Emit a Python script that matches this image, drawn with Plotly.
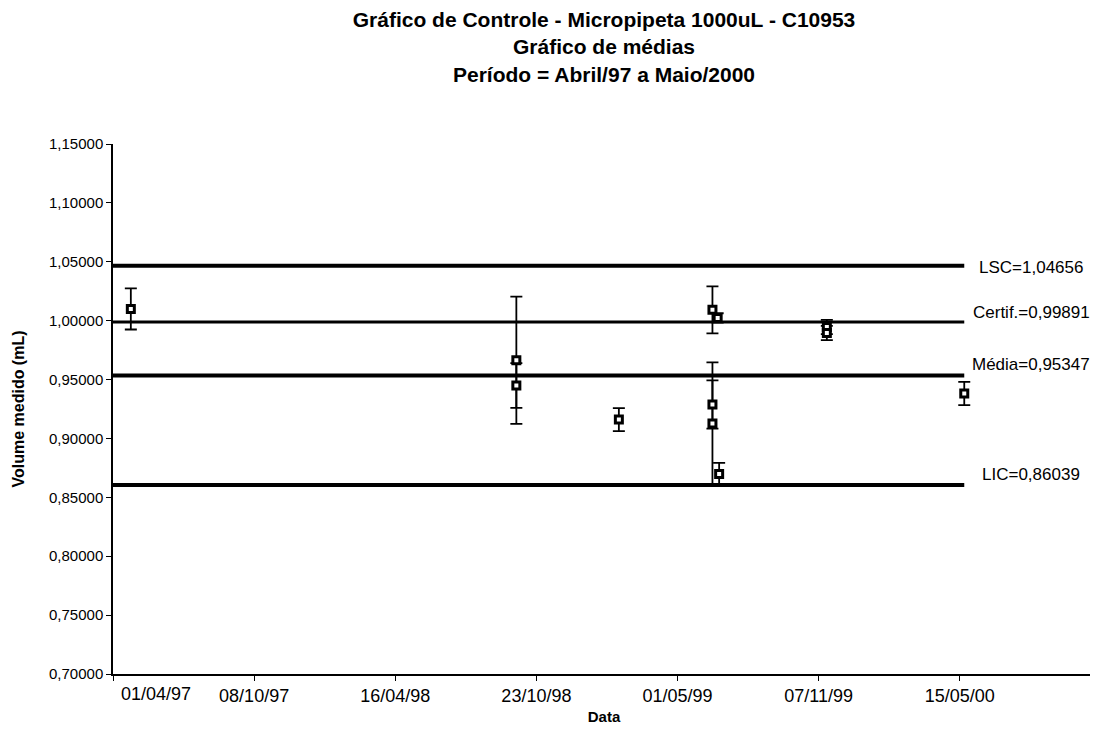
import plotly.graph_objects as go

# ---- data ----
dates = ["1997-04-25", "1998-09-26", "1998-09-26", "1999-02-11",
         "1999-06-17", "1999-06-24", "1999-06-17", "1999-06-17", "1999-06-26",
         "1999-11-18", "1999-11-18", "2000-05-21"]
volumes = [1.0100, 0.9664, 0.9450, 0.9160,
           1.0092, 1.0023, 0.9288, 0.9126, 0.8698,
           0.9946, 0.9895, 0.9382]
errors = [0.0175, 0.0540, 0.0190, 0.0098,
          0.0200, 0.0040, 0.0205, 0.0520, 0.0094,
          0.0060, 0.0060, 0.0099]

line_dates = ["1997-04-01", "2000-05-21"]
limit_names = ["LSC", "Certif.", "Média", "LIC"]
limit_values = [1.04656, 0.99891, 0.95347, 0.86039]
limit_widths = [4, 3, 4, 4]
label_shift = [-2, 9, 11, 11]

tick_dates = ["1997-04-01", "1997-10-08", "1998-04-16", "1998-10-23",
              "1999-05-01", "1999-11-07", "2000-05-15"]
tick_labels = ["01/04/97", "08/10/97", "16/04/98", "23/10/98",
               "01/05/99", "07/11/99", "15/05/00"]
x_range = ["1997-04-01", "2000-11-13"]

FONT = "Liberation Sans, Arial, sans-serif"

fig = go.Figure()

for name, val, w in zip(limit_names, limit_values, limit_widths):
    fig.add_trace(go.Scatter(
        x=line_dates, y=[val, val], mode="lines",
        line=dict(color="black", width=w), showlegend=False,
        hoverinfo="skip"))

fig.add_trace(go.Scatter(
    x=dates, y=volumes, mode="markers",
    marker=dict(symbol="square", size=7, color="white",
                line=dict(color="black", width=3)),
    error_y=dict(type="data", array=errors, visible=True,
                 color="black", thickness=1.8, width=6),
    showlegend=False))

annotations = []
for name, val, ys in zip(limit_names, limit_values, label_shift):
    txt = f"{name}=" + f"{val:.5f}".replace(".", ",")
    annotations.append(dict(
        x=0.935, xref="paper", y=val, yref="y", yshift=ys,
        text=txt, showarrow=False, xanchor="center", yanchor="middle",
        font=dict(family=FONT, size=17, color="black")))

# first tick label is drawn shifted right, as in the reference
annotations.append(dict(
    x=0, xref="paper", y=0, yref="paper", xshift=6, yshift=-20,
    text=tick_labels[0], showarrow=False, xanchor="left", yanchor="middle",
    font=dict(family=FONT, size=18, color="black")))

fig.update_layout(
    width=1098, height=732,
    margin=dict(l=105, r=11, t=136, b=66, autoexpand=False),
    paper_bgcolor="white", plot_bgcolor="white",
    separators=",.",
    font=dict(family=FONT, color="black"),
    title=dict(
        text="<b>Gráfico de Controle - Micropipeta 1000uL - C10953<br>"
             "Gráfico de médias<br>Período = Abril/97 a Maio/2000</b>",
        x=0.5, xref="paper", xanchor="center",
        y=0.974, yref="container", yanchor="middle",
        font=dict(family=FONT, size=21, color="black")),
    xaxis=dict(
        type="date", range=x_range, automargin=False,
        tickmode="array", tickvals=tick_dates,
        ticktext=[""] + tick_labels[1:],
        ticks="outside", ticklen=5, tickcolor="black",
        showline=True, linecolor="black", linewidth=1.5,
        showgrid=False, zeroline=False,
        tickfont=dict(family=FONT, size=18, color="black"),
        title=dict(text="<b>Data</b>", standoff=6,
                   font=dict(family=FONT, size=15, color="black"))),
    yaxis=dict(
        range=[0.70, 1.15], dtick=0.05, tick0=0.70, automargin=False,
        tickformat=".5f",
        ticks="outside", ticklen=5, tickcolor="black",
        showline=True, linecolor="black", linewidth=1.5,
        showgrid=False, zeroline=False,
        tickfont=dict(family=FONT, size=15, color="black"),
        title=dict(text="<b>Volume medido (mL)</b>", standoff=20,
                   font=dict(family=FONT, size=16, color="black"))),
    annotations=annotations,
)

fig.write_html("out.html", config={"displayModeBar": False})
